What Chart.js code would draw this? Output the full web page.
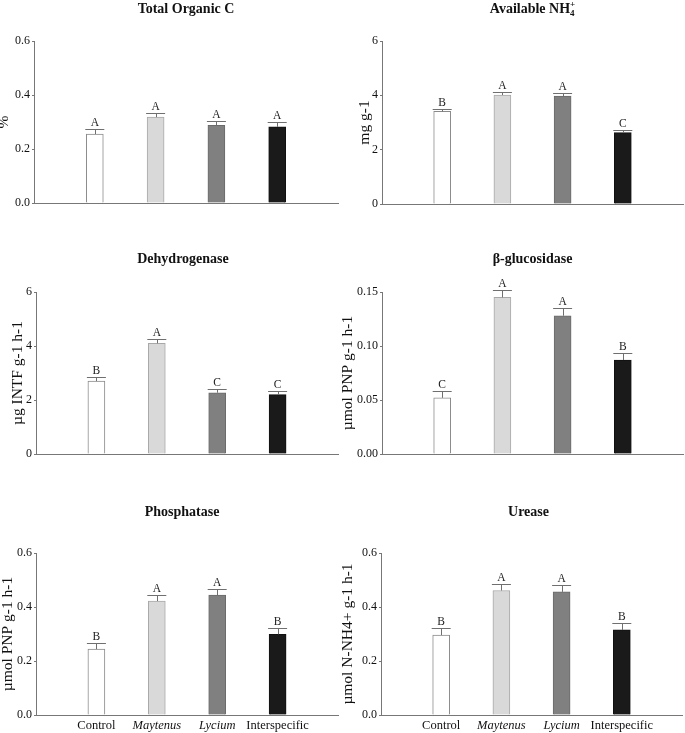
<!DOCTYPE html>
<html><head><meta charset="utf-8">
<script src="https://cdn.jsdelivr.net/npm/chart.js@4.4.1/dist/chart.umd.min.js"></script>
<style>
html,body{margin:0;padding:0;background:#fff;}
body{width:685px;height:733px;position:relative;overflow:hidden;}
canvas{position:absolute;}
</style></head><body>
<canvas id="c1" width="342" height="230" style="left:0;top:0"></canvas>
<canvas id="c2" width="343" height="230" style="left:342px;top:0"></canvas>
<canvas id="c3" width="342" height="250" style="left:0;top:230px"></canvas>
<canvas id="c4" width="343" height="250" style="left:342px;top:230px"></canvas>
<canvas id="c5" width="342" height="253" style="left:0;top:480px"></canvas>
<canvas id="c6" width="343" height="253" style="left:342px;top:480px"></canvas>
<script>
// ---- data ----
const categories = ['Control', 'Maytenus', 'Lycium', 'Interspecific'];

const tocValues  = [0.255, 0.318, 0.288, 0.282];
const tocErrors  = [0.019, 0.015, 0.017, 0.018];
const tocLetters = ['A', 'A', 'A', 'A'];
const tocTicks   = ['0.0', '0.2', '0.4', '0.6'];

const nh4Values  = [3.41, 4.01, 3.97, 2.63];
const nh4Errors  = [0.10, 0.13, 0.10, 0.11];
const nh4Letters = ['B', 'A', 'A', 'C'];
const nh4Ticks   = ['0', '2', '4', '6'];

const dehValues  = [2.70, 4.10, 2.27, 2.20];
const dehErrors  = [0.15, 0.15, 0.13, 0.13];
const dehLetters = ['B', 'A', 'C', 'C'];
const dehTicks   = ['0', '2', '4', '6'];

const gluValues  = [0.052, 0.145, 0.128, 0.087];
const gluErrors  = [0.0065, 0.007, 0.007, 0.0068];
const gluLetters = ['C', 'A', 'A', 'B'];
const gluTicks   = ['0.00', '0.05', '0.10', '0.15'];

const phoValues  = [0.244, 0.422, 0.444, 0.299];
const phoErrors  = [0.021, 0.024, 0.022, 0.022];
const phoLetters = ['B', 'A', 'A', 'B'];
const phoTicks   = ['0.0', '0.2', '0.4', '0.6'];

const ureValues  = [0.296, 0.461, 0.456, 0.315];
const ureErrors  = [0.026, 0.024, 0.025, 0.026];
const ureLetters = ['B', 'A', 'A', 'B'];
const ureTicks   = ['0.0', '0.2', '0.4', '0.6'];

// ---- style ----
const FONT = "'Liberation Serif', 'Times New Roman', serif";
const barFill   = ['#ffffff', '#d9d9d9', '#808080', '#1a1a1a'];
const barBorder = ['#8a8a8a', '#a8a8a8', '#6a6a6a', '#111111'];
const italicCats = ['Maytenus', 'Lycium'];

const pad = a => [null, ...a, null];

const panelTitle = {
  id: 'panelTitle',
  afterDraw(chart, args, o) {
    const {ctx, chartArea} = chart;
    ctx.save();
    ctx.fillStyle = '#111';
    ctx.textBaseline = 'alphabetic';
    ctx.font = 'bold 14px ' + FONT;
    const w = ctx.measureText(o.text).width;
    ctx.font = 'bold 9px ' + FONT;
    const ws = Math.max(o.sub ? ctx.measureText(o.sub).width : 0, o.sup ? ctx.measureText(o.sup).width : 0);
    const cx = (chartArea.left + chartArea.right) / 2 + (o.dx || 0);
    const x0 = cx - (w + ws) / 2;
    ctx.font = 'bold 14px ' + FONT;
    ctx.textAlign = 'left';
    ctx.fillText(o.text, x0, o.baseline);
    ctx.font = 'bold 9px ' + FONT;
    if (o.sub) ctx.fillText(o.sub, x0 + w, o.baseline + 3);
    if (o.sup) ctx.fillText(o.sup, x0 + w, o.baseline - 6);
    ctx.restore();
  }
};

const errorBars = {
  id: 'errorBars',
  afterDatasetsDraw(chart, args, o) {
    const {ctx} = chart;
    const y = chart.scales.y;
    const meta = chart.getDatasetMeta(0);
    const data = chart.data.datasets[0].data;
    ctx.save();
    ctx.strokeStyle = '#6f6f6f';
    ctx.lineWidth = 1;
    ctx.fillStyle = '#222';
    ctx.font = '11.5px ' + FONT;
    ctx.textAlign = 'center';
    ctx.textBaseline = 'alphabetic';
    meta.data.forEach((bar, i) => {
      const v = data[i];
      if (v == null) return;
      const e = o.errors[i];
      const top = Math.round(y.getPixelForValue(v + e)) + 0.5;
      const x = Math.round(bar.x) + 0.5;
      const half = bar.width / 2 + 1;
      ctx.beginPath();
      ctx.moveTo(x, bar.y);
      ctx.lineTo(x, top);
      ctx.moveTo(bar.x - half, top);
      ctx.lineTo(bar.x + half, top);
      ctx.stroke();
      ctx.fillText(o.letters[i], bar.x, top - 4);
    });
    ctx.restore();
  }
};

function makePanel(id, p) {
  new Chart(document.getElementById(id), {
    type: 'bar',
    data: {
      labels: ['', ...categories, ''],
      datasets: [{
        data: pad(p.values),
        backgroundColor: pad(barFill),
        borderColor: pad(barBorder),
        borderWidth: 1,
        barThickness: 17
      }]
    },
    plugins: [panelTitle, errorBars],
    options: {
      responsive: false,
      animation: false,
      devicePixelRatio: 1,
      layout: { padding: { left: 0, right: p.padRight, top: p.padTop, bottom: 0 } },
      plugins: {
        legend: { display: false },
        tooltip: { enabled: false },
        title: { display: false },
        panelTitle: { text: p.title, sub: p.sub, sup: p.sup, baseline: p.titleBaseline, dx: p.titleDx || 0 },
        errorBars: { errors: pad(p.errors), letters: pad(p.letters) }
      },
      scales: {
        x: {
          offset: false,
          grid: { display: false, drawTicks: false },
          border: { display: true, color: '#777', width: 1 },
          ticks: {
            display: p.showX,
            padding: 3,
            color: '#111',
            maxRotation: 0,
            autoSkip: false,
            font: ctx => ({ family: FONT, size: 12.5,
              style: italicCats.includes(categories[ctx.index - 1]) ? 'italic' : 'normal' })
          },
          afterFit: s => { s.height = p.xHeight; }
        },
        y: {
          min: 0, max: p.max,
          ticks: {
            stepSize: p.step,
            padding: 2,
            color: '#111',
            font: { family: FONT, size: 12 },
            callback: (v, i) => p.ticks[i]
          },
          grid: { display: true, drawOnChartArea: false, drawTicks: true, tickLength: 2, color: '#777' },
          border: { display: true, color: '#777', width: 1 },
          title: {
            display: true, text: p.yTitle, color: '#111',
            font: { family: FONT, size: 15.5, lineHeight: 1 },
            padding: { top: p.yTitleOff - 7.75, bottom: 0 }
          },
          afterFit: s => { s.width = p.yWidth; }
        }
      }
    }
  });
}

makePanel('c1', { title: 'Total Organic C', values: tocValues, errors: tocErrors, letters: tocLetters, ticks: tocTicks,
  max: 0.6, step: 0.2, yTitle: '%', yWidth: 34, padRight: 4, padTop: 41, xHeight: 27, titleBaseline: 13, yTitleOff: 4, showX: false });
makePanel('c2', { title: 'Available NH', sub: '4', sup: '+', values: nh4Values, errors: nh4Errors, letters: nh4Letters, ticks: nh4Ticks,
  max: 6, step: 2, yTitle: 'mg g-1', yWidth: 40, padRight: 2, padTop: 41, xHeight: 26, titleBaseline: 13, yTitleOff: 22.5, showX: false });
makePanel('c3', { title: 'Dehydrogenase', values: dehValues, errors: dehErrors, letters: dehLetters, ticks: dehTicks,
  max: 6, step: 2, yTitle: 'µg INTF g-1 h-1', yWidth: 36, padRight: 4, padTop: 62, xHeight: 26, titleBaseline: 33, yTitleOff: 17.5, showX: false, titleDx: -4 });
makePanel('c4', { title: 'β-glucosidase', values: gluValues, errors: gluErrors, letters: gluLetters, ticks: gluTicks,
  max: 0.15, step: 0.05, yTitle: 'µmol PNP g-1 h-1', yWidth: 40, padRight: 2, padTop: 62, xHeight: 26, titleBaseline: 33, yTitleOff: 6, showX: false });
makePanel('c5', { title: 'Phosphatase', values: phoValues, errors: phoErrors, letters: phoLetters, ticks: phoTicks,
  max: 0.6, step: 0.2, yTitle: 'µmol PNP g-1 h-1', yWidth: 36, padRight: 4, padTop: 73, xHeight: 18, titleBaseline: 36, yTitleOff: 8, showX: true, titleDx: -5 });
makePanel('c6', { title: 'Urease', values: ureValues, errors: ureErrors, letters: ureLetters, ticks: ureTicks,
  max: 0.6, step: 0.2, yTitle: 'µmol N-NH4+ g-1 h-1', yWidth: 39, padRight: 2, padTop: 73, xHeight: 18, titleBaseline: 36, yTitleOff: 6, showX: true, titleDx: -3 });
</script>
</body></html>
